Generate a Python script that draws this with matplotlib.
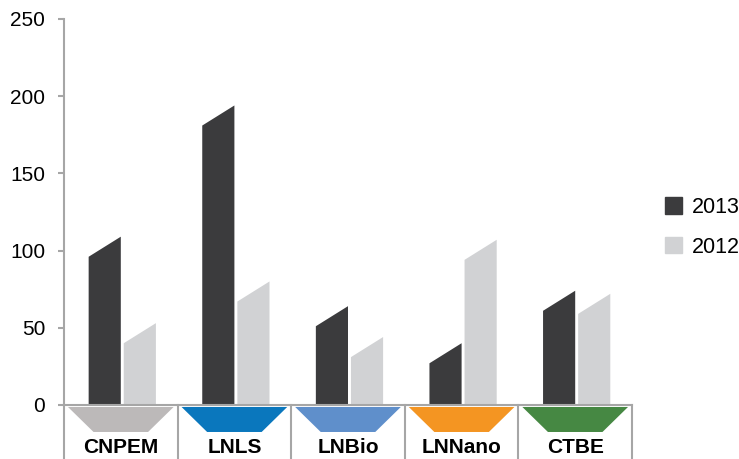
import matplotlib.pyplot as plt
from matplotlib.patches import Patch

plt.rcParams['font.family'] = ['Liberation Sans', 'DejaVu Sans']

categories = ['CNPEM', 'LNLS', 'LNBio', 'LNNano', 'CTBE']
v2013 = [96, 181, 51, 27, 61]
v2012 = [40, 67, 31, 94, 59]
base_colors = ['#bcb9b9', '#0a77bd', '#5f8fcb', '#f49522', '#468843']

dark = '#3b3b3d'
light = '#d1d2d4'
axis_grey = '#a6a6a6'
slant = 13      # rise of the bar tops (data units)
bw = 0.283      # bar width in category units

fig = plt.figure(figsize=(7.39, 4.59), dpi=100)
ax = fig.add_axes([64 / 739, 0, 568 / 739, 440 / 459])

for i, (a, b) in enumerate(zip(v2013, v2012)):
    x0 = i - bw
    ax.fill([x0, i, i, x0], [0, 0, a + slant, a], color=dark, lw=0)
    x1 = i + 0.026
    ax.fill([x1, x1 + bw, x1 + bw, x1], [0, 0, b + slant, b], color=light, lw=0)
    # coloured trapezoid under each category
    ax.fill([i - 0.465, i + 0.465, i + 0.24, i - 0.24],
            [-1.3, -1.3, -17.5, -17.5], color=base_colors[i], lw=0)
    ax.text(i, -27.8, categories[i], ha='center', va='center',
            fontsize=15, fontweight='bold', color='black')

# table-like dividers
ax.plot([-0.5, 4.5], [0, 0], color=axis_grey, lw=1.5, clip_on=False)
for k in range(1, 6):
    ax.plot([k - 0.5, k - 0.5], [-35, 0], color=axis_grey, lw=1.5, clip_on=False)

ax.set_xlim(-0.5, 4.5)
ax.set_ylim(-35, 250)
for s in ['top', 'right', 'bottom']:
    ax.spines[s].set_visible(False)
ax.spines['left'].set_color(axis_grey)
ax.spines['left'].set_linewidth(1.5)
ax.set_xticks([])
ax.set_yticks([0, 50, 100, 150, 200, 250])
ax.tick_params(axis='y', length=4.5, width=1.5, color=axis_grey, pad=9,
               labelsize=15, labelcolor='black')

handles = [Patch(color=dark, label='2013'), Patch(color=light, label='2012')]
fig.legend(handles=handles, loc='upper left', bbox_to_anchor=(665 / 739, 1 - 197 / 459),
           frameon=False, fontsize=15.5, handlelength=0.78, handleheight=0.78,
           handletextpad=0.45, labelspacing=0.86, borderpad=0, borderaxespad=0)

fig.savefig('out.png', dpi=100)
